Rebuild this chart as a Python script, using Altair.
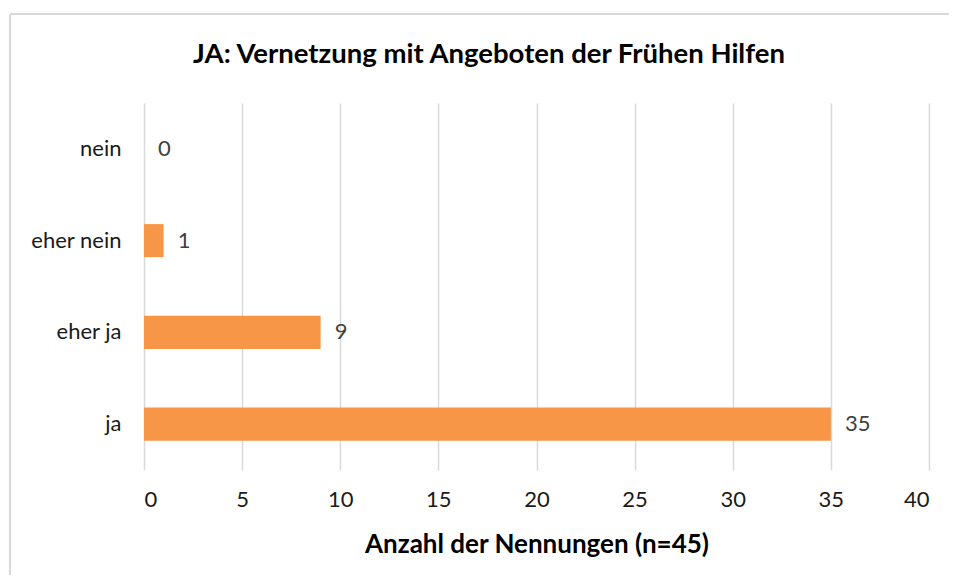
import altair as alt
import pandas as pd

categories = ["nein", "eher nein", "eher ja", "ja"]
values = [0, 1, 9, 35]
x_ticks = [0, 5, 10, 15, 20, 25, 30, 35, 40]
chart_title = "JA: Vernetzung mit Angeboten der Frühen Hilfen"
x_title = "Anzahl der Nennungen (n=45)"

df = pd.DataFrame({"Kategorie": categories, "Anzahl": values})

FONT = "Lato"

y_enc = alt.Y("Kategorie:N", sort=categories, title=None,
              scale=alt.Scale(paddingInner=0.64, paddingOuter=0.32),
              axis=alt.Axis(domain=False, ticks=False, labelFontSize=22,
                            labelFont=FONT, labelColor="#1a1a1a", labelPadding=23))
x_enc = alt.X("Anzahl:Q", scale=alt.Scale(domain=[0, 40], nice=False),
              title=x_title,
              axis=alt.Axis(values=x_ticks, domain=False, ticks=False,
                            grid=True, gridColor="#D9D9D9", gridWidth=1.5,
                            labelFontSize=22, labelFont=FONT, labelColor="#1a1a1a",
                            labelPadding=19, titleFontSize=26, titleFont=FONT,
                            titleFontWeight="bold", titleColor="#000000",
                            titlePadding=21))

bars = alt.Chart(df).mark_bar(color="#F79646").encode(x=x_enc, y=y_enc)
labels = alt.Chart(df).mark_text(align="left", dx=14, fontSize=22, font=FONT,
                                 color="#404040").encode(
    x="Anzahl:Q", y=alt.Y("Kategorie:N", sort=categories), text="Anzahl:Q")

title_df = pd.DataFrame({"t": [chart_title]})
title_mark = alt.Chart(title_df).mark_text(
    fontSize=27.5, font=FONT, fontWeight="bold", color="#000000",
    align="center", baseline="alphabetic").encode(
    x=alt.value(489 - 144), y=alt.value(63 - 103), text="t:N")

border_top = alt.Chart(df).mark_rule(color="#D9D9D9", strokeWidth=2).encode(
    x=alt.value(-134), x2=alt.value(830), y=alt.value(-89))
border_left = alt.Chart(df).mark_rule(color="#D9D9D9", strokeWidth=2).encode(
    x=alt.value(-134), y=alt.value(-89), y2=alt.value(490))

chart = alt.layer(border_top, border_left, bars, labels, title_mark).properties(
    width=785, height=367,
    autosize=alt.AutoSizeParams(type="none"),
    padding={"left": 136, "top": 95, "right": 20, "bottom": 105},
).configure_view(stroke=None)

chart.save("out.html", embed_options={"renderer": "svg", "actions": False})
